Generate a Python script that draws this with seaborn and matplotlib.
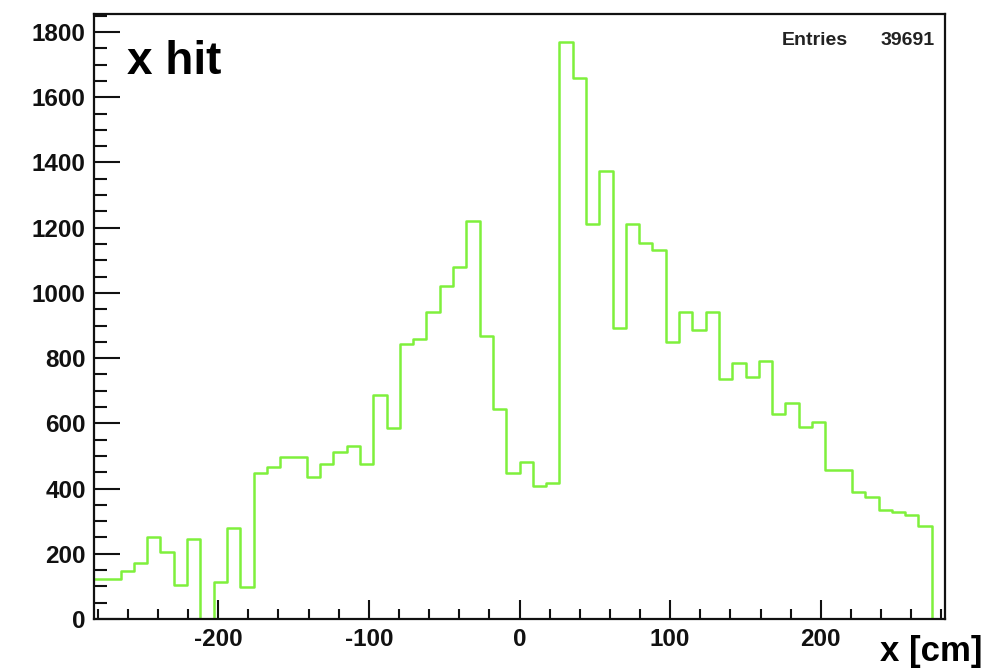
import numpy as np
import pandas as pd
import matplotlib
matplotlib.use("Agg")
import matplotlib.pyplot as plt
from matplotlib.ticker import MultipleLocator
import seaborn as sns

# Histogram of hit x-position: 64 bins over [-282.5, 282.5] cm
x_lo, x_hi, n_bins = -282.5, 282.5, 64
counts = [
    122, 122, 148, 173, 252, 204, 104, 245, 0, 114, 278, 97,
    449, 467, 498, 498, 435, 474, 513, 532, 474, 687,
    587, 843, 858, 941, 1022, 1080, 1221, 868, 644, 449,
    481, 409, 416, 1769, 1660, 1210, 1374, 891, 1210, 1154,
    1130, 850, 941, 886, 941, 735, 784, 743, 792, 629,
    663, 588, 605, 457, 457, 390, 375, 334, 327, 319, 285, 0,
]
title_text = "x hit"
x_label = "x [cm]"
entries_label = "Entries"
entries_value = "39691"
x_ticks = [-200, -100, 0, 100, 200]
y_ticks = [0, 200, 400, 600, 800, 1000, 1200, 1400, 1600, 1800]

edges = np.linspace(x_lo, x_hi, n_bins + 1)
centers = 0.5 * (edges[:-1] + edges[1:])
df = pd.DataFrame({"x": centers, "n": counts})

sns.set_theme(style="ticks")
plt.rcParams["font.family"] = ["Liberation Sans", "DejaVu Sans"]
plt.rcParams["font.weight"] = "bold"
plt.rcParams["axes.unicode_minus"] = False

fig = plt.figure(figsize=(9.84, 6.69), dpi=100)
ax = fig.add_axes([0.0955, 0.0747, 0.8649, 0.9043])

sns.histplot(data=df, x="x", weights="n", bins=n_bins, binrange=(x_lo, x_hi),
             element="step", fill=False, color="#7ff03c", linewidth=1.8, ax=ax)

ax.set_xlim(x_lo, x_hi)
ax.set_ylim(0, 1855)
ax.set_xticks(x_ticks)
ax.set_yticks(y_ticks)
ax.xaxis.set_minor_locator(MultipleLocator(20))
ax.yaxis.set_minor_locator(MultipleLocator(50))
ax.set_xlabel("")
ax.set_ylabel("")

for side in ["left", "right", "top", "bottom"]:
    ax.spines[side].set_linewidth(1.6)
    ax.spines[side].set_color("#111111")

ax.tick_params(axis="both", which="both", direction="in", width=1.5,
               color="#111111", top=False, right=False)
ax.tick_params(axis="y", which="major", length=19, pad=6, labelsize=17.5)
ax.tick_params(axis="y", which="minor", length=9.5)
ax.tick_params(axis="x", which="major", length=14, pad=6.5, labelsize=17.5)
ax.tick_params(axis="x", which="minor", length=7)
for lab in ax.get_xticklabels() + ax.get_yticklabels():
    lab.set_fontweight("bold")
    lab.set_color("#111111")

# Title inside the frame, top-left
fig.text(127 / 984, 1 - 74 / 669, title_text, fontsize=33, fontweight="bold",
         color="black", ha="left", va="baseline")

# Statistics box text, top-right
fig.text(782 / 984, 1 - 45 / 669, entries_label, fontsize=14,
         fontweight="bold", color="#222222", ha="left", va="baseline")
fig.text(935 / 984, 1 - 45 / 669, entries_value, fontsize=14,
         fontweight="bold", color="#222222", ha="right", va="baseline")

# Axis label at the lower right corner
fig.text(982 / 984, 8 / 669, x_label, fontsize=25, fontweight="bold",
         color="black", ha="right", va="baseline")

fig.savefig("out.png", dpi=100, facecolor="white")
